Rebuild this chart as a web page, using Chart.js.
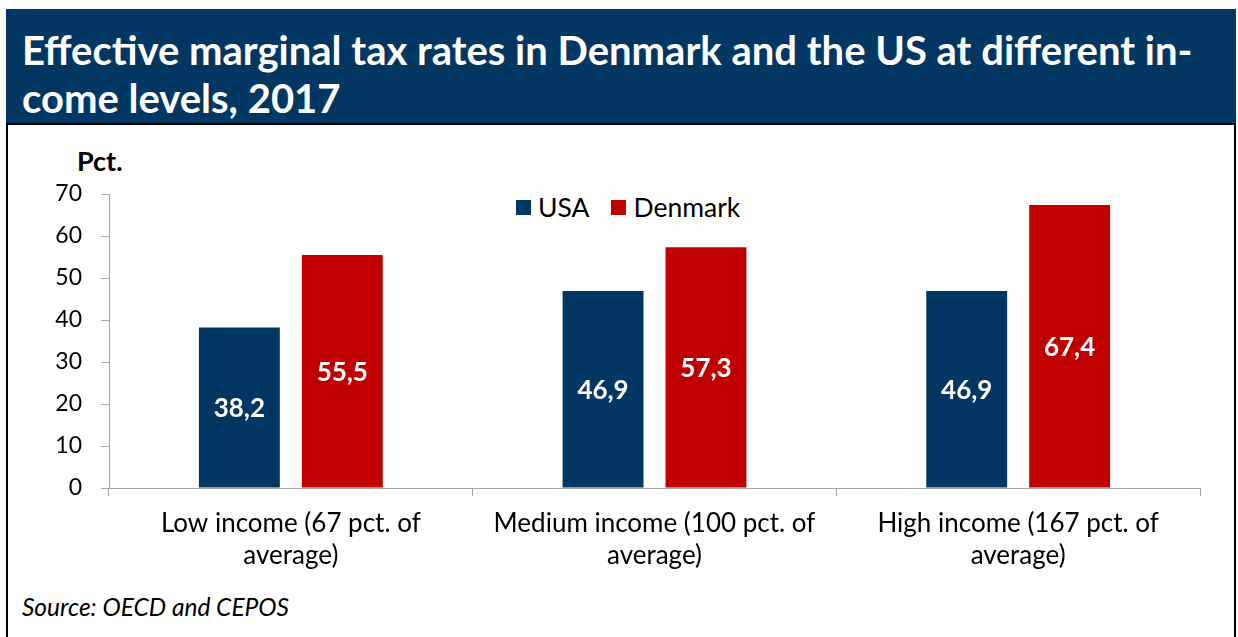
<!DOCTYPE html>
<html>
<head>
<meta charset="utf-8">
<script src="https://cdn.jsdelivr.net/npm/chart.js@4.4.1/dist/chart.umd.min.js"></script>
<style>
  body { margin: 0; background: #fff; font-family: Lato, sans-serif; }
  #frame { position: absolute; left: 6px; top: 9px; width: 1226px; height: 640px; border: 2px solid #000; }
  #banner { position: absolute; left: 6px; top: 9px; width: 1230px; height: 114px; background: #023764; border-bottom: 2px solid #000; }
  #title { position: absolute; left: 22px; top: 26px; color: #fff; font: bold 40px Lato, sans-serif; line-height: 48px; white-space: nowrap; }
  #unit { position: absolute; left: 77px; top: 147px; font: bold 27px Lato, sans-serif; line-height: 27px; }
  #legend { position: absolute; left: 516px; top: 192px; display: flex; align-items: center; font: 26.5px Lato, sans-serif; line-height: 30px; }
  #legend .item { display: flex; align-items: center; margin-right: 22px; }
  #legend .box { width: 15px; height: 15px; margin-right: 7px; }
  #source { position: absolute; left: 22px; top: 595px; font: italic 24.5px Lato, sans-serif; line-height: 24.5px; }
  #wrap { position: absolute; left: 0; top: 124px; width: 1230px; height: 464px; }
</style>
</head>
<body>
<div id="frame"></div>
<div id="banner"></div>
<div id="title">Effective marginal tax rates in Denmark and the US at different in-<br>come levels, 2017</div>
<div id="unit">Pct.</div>
<div id="legend"></div>
<div id="wrap"><canvas id="taxChart"></canvas></div>
<div id="source">Source: OECD and CEPOS</div>

<script>
// data
const categories = [
  ['Low income (67 pct. of', 'average)'],
  ['Medium income (100 pct. of', 'average)'],
  ['High income (167 pct. of', 'average)']
];
const seriesNames = ['USA', 'Denmark'];
const usaRates = [38.2, 46.9, 46.9];
const denmarkRates = [55.5, 57.3, 67.4];
const yTicks = [0, 10, 20, 30, 40, 50, 60, 70];

const colors = ['#023764', '#c00000'];

// legend in html, sits inside the plot area
const legend = document.getElementById('legend');
seriesNames.forEach((name, i) => {
  const item = document.createElement('div');
  item.className = 'item';
  item.innerHTML = '<span class="box" style="background:' + colors[i] + '"></span>' + name;
  legend.appendChild(item);
});

// white value labels in the middle of each bar
const barLabels = {
  id: 'barLabels',
  afterDatasetsDraw(chart) {
    const ctx = chart.ctx;
    ctx.save();
    ctx.fillStyle = '#fff';
    ctx.font = 'bold 26px Lato, sans-serif';
    ctx.textAlign = 'center';
    ctx.textBaseline = 'middle';
    chart.data.datasets.forEach((ds, i) => {
      chart.getDatasetMeta(i).data.forEach((bar, j) => {
        const txt = ds.data[j].toFixed(1).replace('.', ',');
        ctx.fillText(txt, bar.x, (bar.y + bar.base) / 2 + 1);
      });
    });
    ctx.restore();
  }
};

const axisGrey = '#a6a6a6';

new Chart(document.getElementById('taxChart'), {
  type: 'bar',
  data: {
    labels: categories,
    datasets: [
      { label: seriesNames[0], data: usaRates, backgroundColor: colors[0] },
      { label: seriesNames[1], data: denmarkRates, backgroundColor: colors[1] }
    ]
  },
  options: {
    responsive: true,
    maintainAspectRatio: false,
    animation: false,
    datasets: { bar: { categoryPercentage: 0.566, barPercentage: 0.786 } },
    layout: { padding: { left: 0, right: 30, top: 70, bottom: 0 } },
    plugins: { legend: { display: false }, tooltip: { enabled: false } },
    scales: {
      x: {
        grid: { drawOnChartArea: false, tickLength: 8, color: axisGrey, offset: true },
        border: { color: axisGrey },
        ticks: {
          color: '#000',
          font: { family: 'Lato', size: 26, lineHeight: 1.23 },
          padding: 12,
          maxRotation: 0,
          autoSkip: false
        },
        afterFit(scale) { scale.height = 100; }
      },
      y: {
        min: 0,
        max: 70,
        afterBuildTicks(scale) { scale.ticks = yTicks.map(v => ({ value: v })); },
        grid: { drawOnChartArea: false, tickLength: 8, color: axisGrey },
        border: { color: axisGrey },
        ticks: { color: '#000', font: { family: 'Lato', size: 23 }, padding: 19 },
        afterFit(scale) { scale.width = 109; }
      }
    }
  },
  plugins: [barLabels]
});
</script>
</body>
</html>
